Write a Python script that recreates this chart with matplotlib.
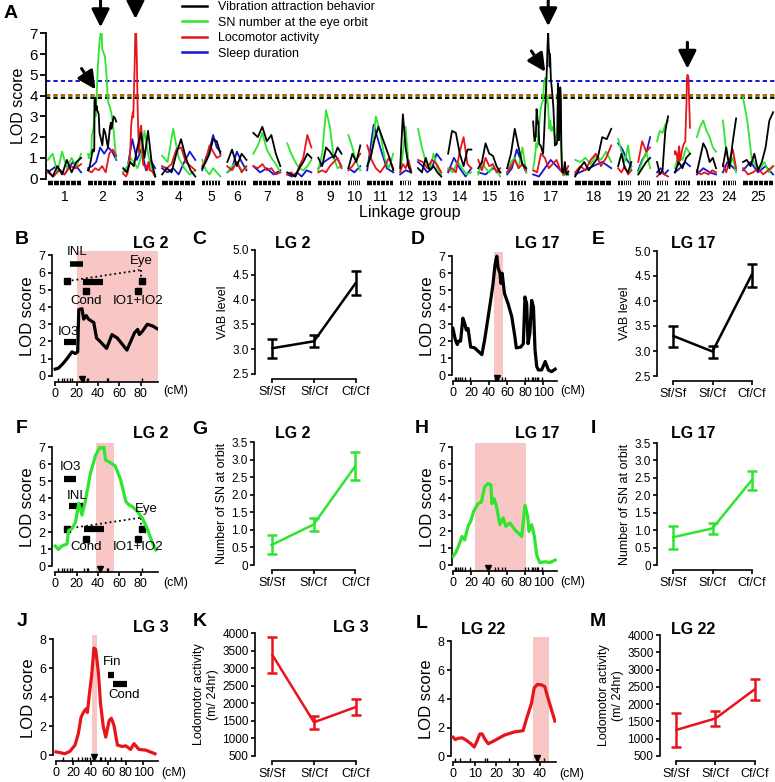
import numpy as np
import matplotlib
matplotlib.use("Agg")
import matplotlib.pyplot as plt
from matplotlib.lines import Line2D

plt.rcParams["font.family"] = ["Liberation Sans", "DejaVu Sans"]

# ── colours ───────────────────────────────────────────────────────────────
BLACK = "#000000"
GREEN = "#2fe52f"
RED = "#e8141c"
BLUE = "#1414d2"
PINK = "#f9c6c6"

# ── Panel A: genome scan ──────────────────────────────────────────────────
lg_names = [str(i) for i in range(1, 26)]
lg_len_cm = [106, 90, 102, 106, 58, 61, 86, 77, 74, 38, 83, 35, 74, 74, 70,
             61, 112, 115, 42, 38, 35, 48, 61, 42, 96]
LG_GAP = 22

thr_vab, thr_sn, thr_loco, thr_sleep = 3.87, 3.97, 4.02, 4.7

# LOD values along each linkage group (None = use the detailed curve below)
vab_lod = [
    [0.4, 0.1, 0.6, 0.2, 0.9, 0.3, 0.8, 1.0], None,
    [0.5, 0.3, 0.8, 0.6, 1.5, 2.2, 1.0, 2.3, 0.8, 0.1],
    [0.2, 0.5, 0.3, 1.2, 1.9, 1.0, 0.4, 0.1], [0.5, 0.8, 1.2, 1.9, 1.8, 1.2],
    [0.8, 1.4, 0.6, 1.2, 0.9], [2.2, 2.0, 2.5, 1.8, 2.1, 1.2, 0.6],
    [0.3, 0.2, 0.1, 0.5, 0.8, 1.2, 1.0], [1.0, 0.6, 1.5, 1.3, 1.0, 1.5, 1.2],
    [0.5, 1.2, 0.8, 1.6], [0.6, 1.1, 1.9, 2.5, 2.0, 1.5, 1.0, 0.4],
    [0.5, 3.1, 1.5, 0.6, 0.3], [0.5, 0.3, 1.0, 0.4, 0.6, 0.3, 0.1],
    [1.2, 2.3, 2.2, 1.2, 0.6, 1.4, 1.4], [0.5, 0.8, 1.7, 1.2, 1.1, 0.6, 0.3],
    [0.5, 1.2, 2.4, 1.5, 0.7, 0.5], None,
    [0.1, 0.5, 0.8, 0.4, 0.7, 1.0, 2.0, 1.9, 2.4], [0.6, 1.2, 0.5, 0.3, 0.8],
    [0.2, 0.5, 0.8, 1.0], [0.8, 0.2, 0.4, 2.3, 3.0], [0.3, 0.8, 0.5, 1.0, 1.2],
    [0.3, 1.0, 1.7, 1.4, 0.8, 1.0, 0.5], [0.6, 1.5, 0.5, 1.8, 2.9],
    [0.8, 0.9, 0.6, 1.2, 0.4, 0.8, 1.5, 2.8, 3.2]]
sn_lod = [
    [0.9, 1.2, 0.3, 1.3, 0.5, 1.0, 0.6, 1.2], None,
    [0.3, 0.5, 1.0, 0.8, 0.5, 1.0, 2.3, 1.2, 0.5, 0.2],
    [1.1, 0.8, 2.4, 1.0, 0.5, 0.2, 0.4], [0.9, 0.4, 0.2, 0.5, 0.3, 0.1],
    [0.3, 0.6, 0.8, 0.4, 0.5], [1.2, 1.6, 2.2, 1.4, 1.0, 0.7, 0.3],
    [1.7, 1.2, 0.8, 0.5, 0.4, 0.6, 0.9], [0.4, 1.2, 3.3, 2.5, 1.0, 0.5, 0.6],
    [2.1, 1.5, 0.8, 0.4], [0.6, 1.2, 3.0, 2.2, 1.0, 0.5, 1.2],
    [0.4, 1.2, 2.5, 0.8, 0.3], [2.4, 1.5, 0.8, 0.4, 1.2, 0.5, 0.2],
    [0.5, 0.3, 0.8, 0.5, 0.2, 0.3], [0.2, 0.8, 0.5, 0.3, 0.6, 0.4, 0.1],
    [0.3, 0.8, 1.0, 0.5, 1.5, 0.3], None,
    [0.9, 0.8, 1.0, 0.7, 1.1, 0.9, 1.3, 0.8], [1.9, 1.3, 0.8, 1.6, 0.4],
    [0.3, 0.8, 1.3, 0.5], [1.8, 2.3, 2.2, 2.6, 2.8], [0.5, 1.2, 0.9, 1.5, 1.2],
    [2.0, 2.5, 2.8, 2.3, 2.0, 1.5, 1.3], [2.8, 1.3, 0.6, 1.0, 0.3],
    [3.9, 2.8, 1.0, 0.6, 0.5, 0.8, 0.3, 0.6]]
loco_lod = [
    [0.3, 0.1, 0.4, 0.2, 0.6, 0.5, 0.7], [0.4, 0.3, 0.5, 0.4, 0.6, 0.3, 1.2, 1.4, 1.1],
    None, [0.6, 0.5, 0.7, 1.4, 1.5, 0.8, 0.6, 0.4], [0.6, 0.9, 1.6, 1.3, 1.0, 1.1],
    [0.6, 0.4, 0.8, 0.3, 0.6], [0.6, 0.5, 0.7, 0.4, 0.5, 0.2, 0.3],
    [0.2, 0.3, 0.1, 0.6, 1.0, 2.1, 1.5], [0.3, 0.4, 0.3, 0.6, 0.8, 1.0, 0.5],
    [0.4, 0.6, 0.9, 1.2], [1.6, 0.9, 0.5, 0.3, 0.6, 1.0, 0.5],
    [0.3, 0.7, 0.5, 0.9, 0.4], [0.9, 0.8, 0.5, 0.9, 0.7, 0.3],
    [0.4, 0.5, 0.3, 1.3, 2.0, 0.7, 0.5], [0.9, 0.4, 1.0, 0.6, 0.7, 0.3, 0.5],
    [0.3, 0.6, 0.9, 0.5, 0.7, 0.4], [0.4, 0.3, 1.2, 1.0, 0.5, 0.7, 0.9, 0.4, 0.2, 0.6],
    [0.3, 0.6, 0.4, 0.9, 1.2, 0.6, 1.0, 1.6], [0.5, 0.3, 0.6, 0.2, 0.4],
    [0.8, 1.8, 1.3, 1.5], [0.1, 0.3, 0.2, 0.1], None,
    [0.4, 0.2, 0.3, 0.2, 0.4, 0.3], [0.7, 0.3, 0.9, 1.4, 0.5],
    [0.5, 0.2, 0.3, 0.5, 0.2, 0.4, 0.6]]
sleep_lod = [
    [0.3, 0.6, 0.2, 0.8, 0.3], [0.5, 0.6, 0.8, 1.5, 1.2, 1.5, 1.3, 0.9],
    [0.3, 0.6, 1.9, 0.9, 1.4, 0.4, 0.9, 0.5], [0.5, 0.3, 0.5, 0.2, 0.8, 1.3, 0.9],
    [0.4, 1.0, 1.4, 2.1, 1.5, 1.3], [0.3, 0.5, 1.3, 0.8, 0.4],
    [0.6, 0.3, 0.5, 0.2, 0.4], [0.2, 0.1, 0.3, 0.1, 0.4, 0.3],
    [0.5, 0.8, 1.0, 1.1, 0.6], [0.5, 0.3, 0.6], [0.4, 2.6, 1.5, 0.5, 0.3],
    [0.2, 0.4, 0.3], [0.8, 0.6, 0.3, 0.5, 1.2, 0.9], [0.3, 1.0, 0.5, 0.1, 0.5],
    [0.3, 0.2, 0.5, 0.3], [0.2, 0.5, 1.4, 0.8, 0.3],
    [0.2, 0.1, 0.5, 0.9, 0.6, 0.3, 0.2], [0.2, 0.4, 0.6, 0.8, 0.5],
    [1.7, 1.4, 0.9, 0.6], [0.4, 0.9, 1.2, 2.0], [0.3, 0.5, 0.2, 0.4],
    [0.3, 0.5, 0.8, 0.6], [0.2, 0.5, 0.3, 0.2], [0.3, 0.8, 0.6, 0.4],
    [0.4, 0.8, 0.3, 0.6, 0.2]]

# ── detailed LOD curves (cM, LOD) ─────────────────────────────────────────
vab_lg2_cm = [0, 3, 7, 11, 15.7, 18.8, 21, 22, 25, 26.6, 29, 31, 36, 38.6, 42,
              48, 53, 58, 67, 74, 77, 78.6, 81.5, 86, 91, 95]
vab_lg2_lod = [0.4, 0.45, 0.7, 1.0, 1.4, 1.3, 1.4, 3.85, 3.9, 3.3, 3.5, 3.3, 3.1,
               2.2, 2.0, 1.6, 2.4, 2.2, 1.5, 2.5, 2.7, 2.4, 2.6, 3.0, 2.9, 2.75]
sn_lg2_cm = [0, 3, 6, 11, 12.5, 15.7, 19, 22, 25, 28, 33, 37.6, 41.7, 44, 45.5,
             47, 50, 56, 61, 66, 69, 72, 77, 81.5, 86, 91, 94]
sn_lg2_lod = [1.18, 0.98, 1.18, 1.3, 2.1, 2.2, 2.6, 3.7, 3.0, 3.8, 5.5, 6.5, 7.0,
              6.95, 7.0, 6.25, 6.15, 5.9, 5.1, 3.8, 3.6, 3.5, 3.2, 2.8, 2.2, 1.33, 0.95]
vab_lg17_cm = [0, 2.6, 4.8, 6.3, 8.5, 11, 13, 14.8, 16.7, 19.6, 24, 32, 35, 39,
               42, 44.4, 46.5, 48.5, 50, 52, 53, 54.4, 57, 61, 65, 68.5, 70, 75,
               77.8, 79.6, 81.5, 83, 85, 87, 89, 90.7, 92.6, 94.4, 98, 102,
               105.5, 109, 113]
vab_lg17_lod = [2.75, 2.1, 1.8, 2.0, 2.0, 3.35, 3.05, 2.65, 2.75, 1.65, 1.6, 1.2,
                2.05, 3.45, 4.5, 5.4, 6.5, 7.0, 6.3, 6.0, 5.4, 6.0, 4.8, 4.2,
                3.45, 2.25, 1.6, 1.65, 1.85, 4.6, 4.2, 1.85, 2.45, 4.4, 4.0, 1.5,
                0.5, 0.3, 0.3, 0.8, 0.3, 0.2, 0.35]
sn_lg17_cm = [0, 3.7, 7.4, 10, 13, 16.7, 19.6, 23, 27.8, 31.5, 35, 39, 42, 43,
              45.5, 48, 52, 55.5, 58.5, 63, 68.5, 76, 79.6, 82.6, 84, 87, 90,
              92.6, 96, 102, 107, 113]
sn_lg17_lod = [0.5, 0.8, 1.3, 1.7, 1.5, 2.3, 2.6, 3.2, 3.65, 3.75, 4.65, 4.85,
               4.75, 3.65, 3.95, 3.5, 2.4, 2.8, 2.3, 2.5, 2.1, 1.7, 3.55, 2.9,
               2.0, 2.4, 1.7, 0.6, 0.15, 0.2, 0.15, 0.3]
loco_lg3_cm = [0, 4.6, 10, 16, 21.8, 25.6, 28.6, 31.3, 34.4, 36, 38, 40.8, 43.5,
               45.5, 48.6, 51, 54, 57, 61, 63.5, 66.5, 70.4, 76, 80, 85.6,
               89.5, 95, 103, 113.5]
loco_lg3_lod = [0.23, 0.18, 0.1, 0.27, 0.7, 1.5, 2.6, 2.95, 3.2, 2.95, 4.1, 5.45,
                7.4, 7.3, 5.7, 3.6, 2.05, 1.25, 2.4, 2.55, 2.05, 0.7, 0.6, 0.65,
                0.4, 0.8, 0.4, 0.35, 0.1]
loco_lg22_cm = [0, 1, 2.3, 4.2, 6.2, 8.2, 9.7, 10.8, 12.3, 13.4, 14.6, 16.2,
                19.2, 23.8, 28.5, 32.3, 33.8, 36.2, 37.4, 38.9, 40.8, 42.3,
                43.8, 45.4, 47]
loco_lg22_lod = [1.32, 1.16, 1.25, 1.28, 1.1, 0.87, 0.64, 0.98, 1.55, 1.55, 1.2,
                 0.87, 1.1, 1.48, 1.7, 1.78, 2.57, 3.7, 4.75, 5.0, 4.97, 4.85,
                 4.05, 3.25, 2.45]

# marker positions (cM)
markers_lg2 = [3, 6, 8.5, 11, 13.5, 15.7, 26.6, 29.8, 31, 48, 49, 81.5]
markers_lg17 = [1.9, 3.7, 5.5, 7.4, 10, 13, 19, 46, 50, 53.7, 57, 79.6, 83, 87,
                89, 91, 92.6, 94.4, 98]
markers_lg3 = [7.6, 18, 25.6, 29.4, 33, 36, 39, 42, 50.4, 52, 56, 62, 67.5, 75, 80]
markers_lg22 = [1, 3, 7.7, 14.6, 15.8, 26, 30, 38.5, 39, 42]

# ── genotype effects (mean, s.e.m.) ───────────────────────────────────────
genotypes = ["Sf/Sf", "Sf/Cf", "Cf/Cf"]
vab_lg2_mean, vab_lg2_sem = [3.02, 3.16, 4.33], [0.19, 0.12, 0.24]
vab_lg17_mean, vab_lg17_sem = [3.3, 2.99, 4.52], [0.21, 0.12, 0.23]
sn_lg2_mean, sn_lg2_sem = [0.57, 1.15, 2.82], [0.27, 0.19, 0.39]
sn_lg17_mean, sn_lg17_sem = [0.8, 1.05, 2.43], [0.33, 0.16, 0.27]
loco_lg3_mean, loco_lg3_sem = [3370, 1460, 1890], [517, 180, 235]
loco_lg22_mean, loco_lg22_sem = [1255, 1587, 2426], [486, 205, 310]

W, H = 775, 782
fig = plt.figure(figsize=(W / 100, H / 100), dpi=100)


def px_axes(l, t, r, b):
    return fig.add_axes([l / W, 1 - b / H, (r - l) / W, (b - t) / H])


def ftext(x, y, s, **kw):
    fig.text(x / W, 1 - y / H, s, **kw)


# ══════════════════════════════════════════════════════════════════════════
# A — genome-wide scan
# ══════════════════════════════════════════════════════════════════════════
axA = px_axes(46, 33, 775, 179)
starts = np.concatenate([[0], np.cumsum(np.array(lg_len_cm[:-1]) + LG_GAP)])
ends = starts + np.array(lg_len_cm)

detail = {
    (0, 1): (vab_lg2_cm, vab_lg2_lod), (0, 16): (vab_lg17_cm, vab_lg17_lod),
    (1, 1): (sn_lg2_cm, sn_lg2_lod), (1, 16): (sn_lg17_cm, sn_lg17_lod),
    (2, 2): (loco_lg3_cm, loco_lg3_lod), (2, 21): (loco_lg22_cm, loco_lg22_lod),
}


def genome_xy(trait_idx, values, i):
    if values is None:
        cm, lod = detail[(trait_idx, i)]
        cm = np.array(cm)
        x = starts[i] + cm / cm.max() * lg_len_cm[i]
        return x, np.array(lod)
    x = np.linspace(starts[i], ends[i], len(values))
    return x, np.array(values)


traits = [(vab_lod, BLACK, 4), (sn_lod, GREEN, 3), (loco_lod, RED, 3.5),
          (sleep_lod, BLUE, 2)]
for t, (vals, col, z) in enumerate(traits):
    for i in range(len(lg_names)):
        x, y = genome_xy(t, vals[i], i)
        axA.plot(x, y, color=col, lw=1.3, zorder=z, solid_joinstyle="round")

for thr, col in [(thr_sleep, BLUE), (thr_loco, "#c0501a"), (thr_sn, "#7a8a10"),
                 (thr_vab, BLACK)]:
    axA.axhline(thr, color=col, lw=1.4, ls=(0, (2.2, 1.6)), zorder=1)

# marker rug under every linkage group
for s, e in zip(starts, ends):
    axA.plot([s, e], [-0.22, -0.22], color=BLACK, lw=3.2,
             solid_capstyle="butt", clip_on=False)
    for xm in np.linspace(s, e, 7)[1:-1]:
        axA.plot([xm, xm], [-0.3, -0.14], color="white", lw=0.8, clip_on=False)

xmax = ends[-1] + 6
axA.set_xlim(-6, xmax)
axA.set_ylim(-0.02, 7.02)
axA.set_yticks(range(8))
axA.set_xticks((starts + ends) / 2)
axA.set_xticklabels(lg_names, fontsize=10)
axA.tick_params(axis="x", length=0, pad=8)
axA.tick_params(axis="y", direction="out", length=4, width=1.3, labelsize=11, pad=2)
for sp in ["top", "right", "bottom"]:
    axA.spines[sp].set_visible(False)
axA.spines["left"].set_linewidth(1.3)
axA.spines["left"].set_bounds(0, 7)
axA.set_ylabel("LOD score", fontsize=11.5, labelpad=2)
ftext(410, 213, "Linkage group", fontsize=11.5, ha="center", va="center")

# arrows on the significant peaks
arrow_kw = dict(arrowstyle="-|>,head_length=0.9,head_width=0.45", lw=2.2,
                color=BLACK, mutation_scale=12, shrinkA=0, shrinkB=0)


def peak_arrow(trait_idx, i, dx, dy, lift):
    x, y = genome_xy(trait_idx, traits[trait_idx][0][i], i)
    k = int(np.argmax(y))
    axA.annotate("", xy=(x[k], y[k] + lift), xytext=(dx, dy),
                 textcoords="offset points", arrowprops=arrow_kw,
                 annotation_clip=False)


peak_arrow(1, 1, 0, 21, 0.3)     # LG2 SN
peak_arrow(2, 2, 0, 21, 0.3)     # LG3 locomotor
peak_arrow(0, 16, 0, 19, 0.35)   # LG17 VAB
peak_arrow(2, 21, 0, 19, 0.3)    # LG22 locomotor
peak_arrow(0, 1, -10, 15, 0.4)   # LG2 VAB
peak_arrow(1, 16, -10, 15, 0.3)  # LG17 SN

handles = [Line2D([], [], color=c, lw=1.8) for c in (BLACK, GREEN, RED, BLUE)]
axA.legend(handles, ["Vibration attraction behavior", "SN number at the eye orbit",
                     "Locomotor activity", "Sleep duration"],
           loc="upper left", bbox_to_anchor=(181 / W, 1.0),
           bbox_transform=fig.transFigure, frameon=False, fontsize=9,
           handlelength=2.0, handletextpad=0.9, labelspacing=0.28,
           borderpad=0.1, borderaxespad=0)
ftext(11, 14, "A", fontsize=14, fontweight="bold", ha="center", va="center")


# ══════════════════════════════════════════════════════════════════════════
# LOD profiles of single linkage groups
# ══════════════════════════════════════════════════════════════════════════
def lod_panel(rect, cm, lod, color, xlim, ylim, xticks, yticks, markers,
              shade, cm_label_px):
    ax = px_axes(*rect)
    ax.axvspan(shade[0], shade[1], color=PINK, lw=0, zorder=0)
    ax.plot(cm, lod, color=color, lw=2.3, zorder=3, solid_joinstyle="round")
    k = int(np.argmax(lod))
    ax.plot(cm[k], ylim[0] + 0.15 * (yticks[1] - yticks[0]),
            marker="v", color=BLACK, ms=5, zorder=4, clip_on=False)
    ax.set_xlim(*xlim)
    ax.set_ylim(*ylim)
    ax.set_xticks(xticks)
    ax.set_yticks(yticks)
    ax.set_xticks(markers, minor=True)
    ax.tick_params(axis="both", which="major", direction="out", length=3,
                   width=1.2, labelsize=9, pad=1.5)
    ax.tick_params(axis="x", which="minor", direction="in", length=3, width=1)
    for sp in ["top", "right"]:
        ax.spines[sp].set_visible(False)
    ax.spines["left"].set_bounds(yticks[0], yticks[-1])
    ax.spines["bottom"].set_bounds(0, xlim[1])
    for sp in ["left", "bottom"]:
        ax.spines[sp].set_linewidth(1.2)
    ax.set_ylabel("LOD score", fontsize=12, labelpad=3)
    ftext(cm_label_px[0], cm_label_px[1], "(cM)", fontsize=9, ha="center",
          va="center")
    return ax


def genotype_panel(rect, mean, sem, color, ylim, yticks, ylabel, fmt):
    ax = px_axes(*rect)
    x = np.arange(len(genotypes))
    ax.errorbar(x, mean, yerr=sem, color=color, lw=1.8, elinewidth=1.8,
                capsize=3.5, capthick=1.8, zorder=3)
    ax.set_xlim(-0.42, 2.42)
    ax.set_ylim(*ylim)
    ax.set_xticks(x)
    ax.set_xticklabels(genotypes)
    ax.set_yticks(yticks)
    ax.set_yticklabels([fmt(v) for v in yticks])
    ax.tick_params(axis="both", direction="out", length=3, width=1.2,
                   labelsize=8.5, pad=1.5)
    ax.tick_params(axis="x", labelsize=9, pad=2)
    for sp in ["top", "right"]:
        ax.spines[sp].set_visible(False)
    ax.spines["bottom"].set_position(("outward", 3.5))
    ax.spines["bottom"].set_bounds(0, 2)
    ax.spines["left"].set_bounds(yticks[0], yticks[-1])
    for sp in ["left", "bottom"]:
        ax.spines[sp].set_linewidth(1.2)
    ax.set_ylabel(ylabel, fontsize=9, labelpad=2, linespacing=1.25)
    return ax


def f1(v):
    return f"{v:.1f}"


def f_sn(v):
    return "0" if v == 0 else f"{v:.1f}"


def f_int(v):
    return f"{int(v)}"


# B — LG2 VAB
axB = lod_panel((52, 251, 158, 382), vab_lg2_cm, vab_lg2_lod, BLACK,
                (-3, 96), (-0.35, 7.25), [0, 20, 40, 60, 80], list(range(8)),
                markers_lg2, (20.5, 96), (176, 391))
axB.plot([14, 26], [6.5, 6.5], color=BLACK, lw=4, solid_capstyle="butt")
axB.text(20, 6.85, "INL", fontsize=9.5, ha="center", va="bottom")
axB.plot([11, 80], [5.5, 6.15], color=BLACK, lw=1.3, ls=":")
axB.plot([80, 80], [6.15, 5.5], color=BLACK, lw=1.3, ls=":")
axB.plot([11, 81], [5.5, 5.5], ls="none", marker="s", ms=4.5, color=BLACK)
axB.text(80, 6.3, "Eye", fontsize=9.5, ha="center", va="bottom")
axB.plot([26, 45], [5.45, 5.45], color=BLACK, lw=4.5, solid_capstyle="butt")
axB.plot([29, 77], [4.92, 4.92], ls="none", marker="s", ms=4, color=BLACK)
axB.text(29, 4.7, "Cond", fontsize=9.5, ha="center", va="top")
axB.text(77, 4.7, "IO1+IO2", fontsize=9.5, ha="center", va="top")
axB.plot([8, 19], [1.98, 1.98], color=BLACK, lw=4.5, solid_capstyle="butt")
axB.text(12, 2.2, "IO3", fontsize=9.5, ha="center", va="bottom")

# D — LG17 VAB
lod_panel((452, 252, 557, 381), vab_lg17_cm, vab_lg17_lod, BLACK,
          (-1, 115), (-0.35, 7.25), [0, 20, 40, 60, 80, 100], list(range(8)),
          markers_lg17, (45.5, 55.5), (573, 391))

# F — LG2 SN
axF = lod_panel((52, 443, 158, 572), sn_lg2_cm, sn_lg2_lod, GREEN,
                (-3, 96), (-0.35, 7.25), [0, 20, 40, 60, 80], list(range(8)),
                markers_lg2, (38.5, 55), (176, 583))
axF.text(14, 5.5, "IO3", fontsize=9.5, ha="center", va="bottom")
axF.plot([8.5, 19], [5.12, 5.12], color=BLACK, lw=4.5, solid_capstyle="butt")
axF.text(20, 3.75, "INL", fontsize=9.5, ha="center", va="bottom")
axF.plot([13, 26], [3.52, 3.52], color=BLACK, lw=4.5, solid_capstyle="butt")
axF.plot([11, 80], [2.2, 2.85], color=BLACK, lw=1.3, ls=":")
axF.plot([80, 80], [2.85, 2.2], color=BLACK, lw=1.3, ls=":")
axF.plot([11, 81.5], [2.2, 2.2], ls="none", marker="s", ms=4.5, color=BLACK)
axF.text(85, 3.0, "Eye", fontsize=9.5, ha="center", va="bottom")
axF.plot([26.5, 46], [2.2, 2.2], color=BLACK, lw=4.5, solid_capstyle="butt")
axF.plot([29, 77], [1.62, 1.62], ls="none", marker="s", ms=4, color=BLACK)
axF.text(29, 1.45, "Cond", fontsize=9.5, ha="center", va="top")
axF.text(77, 1.45, "IO1+IO2", fontsize=9.5, ha="center", va="top")

# H — LG17 SN
lod_panel((452, 443, 557, 571), sn_lg17_cm, sn_lg17_lod, GREEN,
          (-1, 115), (-0.35, 7.25), [0, 20, 40, 60, 80, 100], list(range(8)),
          markers_lg17, (24.8, 80.7), (573, 582))

# J — LG3 locomotor
axJ = lod_panel((53, 635, 158, 761), loco_lg3_cm, loco_lg3_lod, RED,
                (-3.5, 117), (-0.4, 8.3), [0, 20, 40, 60, 80, 100],
                [0, 2, 4, 6, 8], markers_lg3, (41.5, 47), (174, 773))
axJ.text(64, 6.05, "Fin", fontsize=9.5, ha="center", va="bottom")
axJ.plot([60, 67], [5.55, 5.55], color=BLACK, lw=4.5, solid_capstyle="butt")
axJ.plot([65, 81], [4.95, 4.95], color=BLACK, lw=4.5, solid_capstyle="butt")
axJ.text(78, 4.55, "Cond", fontsize=9.5, ha="center", va="top")

# L — LG22 locomotor
lod_panel((451, 637, 556, 762), loco_lg22_cm, loco_lg22_lod, RED,
          (-1, 47.5), (-0.4, 8.3), [0, 10, 20, 30, 40], [0, 2, 4, 6, 8],
          markers_lg22, (36.9, 44.2), (572, 774))

# ══════════════════════════════════════════════════════════════════════════
# genotype effects
# ══════════════════════════════════════════════════════════════════════════
vab_ticks = [2.5, 3.0, 3.5, 4.0, 4.5, 5.0]
sn_ticks = [0, 0.5, 1.0, 1.5, 2.0, 2.5, 3.0, 3.5]
loco_ticks = list(range(500, 4001, 500))
genotype_panel((255, 250, 373, 374), vab_lg2_mean, vab_lg2_sem, BLACK,
               (2.5, 5.0), vab_ticks, "VAB level", f1)
genotype_panel((657, 251, 768, 376), vab_lg17_mean, vab_lg17_sem, BLACK,
               (2.5, 5.0), vab_ticks, "VAB level", f1)
genotype_panel((254, 442, 373, 565), sn_lg2_mean, sn_lg2_sem, GREEN,
               (0, 3.5), sn_ticks, "Number of SN at orbit", f_sn)
genotype_panel((657, 443, 768, 565), sn_lg17_mean, sn_lg17_sem, GREEN,
               (0, 3.5), sn_ticks, "Number of SN at orbit", f_sn)
genotype_panel((255, 633, 373, 756), loco_lg3_mean, loco_lg3_sem, RED,
               (500, 4000), loco_ticks, "Lodomotor activity\n(m/ 24hr)", f_int)
genotype_panel((660, 635, 771, 756), loco_lg22_mean, loco_lg22_sem, RED,
               (500, 4000), loco_ticks, "Lodomotor activity\n(m/ 24hr)", f_int)

# ── panel letters and titles ──────────────────────────────────────────────
letters = [("B", 22, 240), ("C", 199, 239), ("D", 418, 240), ("E", 598, 239),
           ("F", 22, 429), ("G", 200, 430), ("H", 422, 429), ("I", 593, 429),
           ("J", 22, 622), ("K", 200, 622), ("L", 422, 623), ("M", 598, 622)]
for s, x, y in letters:
    ftext(x, y, s, fontsize=14, fontweight="bold", ha="center", va="center")

titles = [("LG 2", 151, 243), ("LG 2", 293, 243), ("LG 17", 537, 243),
          ("LG 17", 693, 243), ("LG 2", 151, 434), ("LG 2", 293, 434),
          ("LG 17", 537, 434), ("LG 17", 693, 434), ("LG 3", 151, 628),
          ("LG 3", 351, 628), ("LG 22", 483, 629), ("LG 22", 693, 629)]
for s, x, y in titles:
    ftext(x, y, s, fontsize=11.5, fontweight="bold", ha="center", va="center")

fig.savefig("out.png", dpi=100)
